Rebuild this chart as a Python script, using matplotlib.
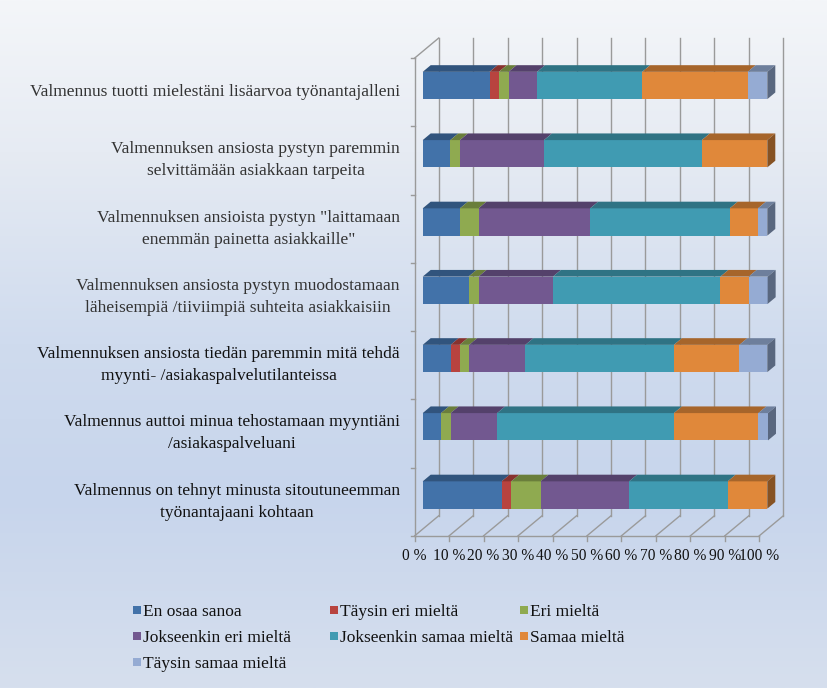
import numpy as np
import matplotlib
matplotlib.use("Agg")
import matplotlib.pyplot as plt
from matplotlib.patches import Polygon, Rectangle
from matplotlib.colors import to_rgb, LinearSegmentedColormap

categories = [
    "Valmennus tuotti mielestäni lisäarvoa työnantajalleni",
    "Valmennuksen ansiosta pystyn paremmin\nselvittämään asiakkaan tarpeita",
    "Valmennuksen ansioista pystyn \"laittamaan\nenemmän painetta asiakkaille\"",
    "Valmennuksen ansiosta pystyn muodostamaan\nläheisempiä /tiiviimpiä suhteita asiakkaisiin",
    "Valmennuksen ansiosta tiedän paremmin mitä tehdä\nmyynti- /asiakaspalvelutilanteissa",
    "Valmennus auttoi minua tehostamaan myyntiäni\n/asiakaspalveluani",
    "Valmennus on tehnyt minusta sitoutuneemman\ntyönantajaani kohtaan",
]

series_names = ["En osaa sanoa", "Täysin eri mieltä", "Eri mieltä",
                "Jokseenkin eri mieltä", "Jokseenkin samaa mieltä",
                "Samaa mieltä", "Täysin samaa mieltä"]

en_osaa = [19.4, 8.0, 10.8, 13.3, 8.1, 5.3, 22.9]
taysin_eri = [2.7, 0.0, 0.0, 0.0, 2.6, 0.0, 2.8]
eri = [2.8, 2.8, 5.4, 2.9, 2.8, 2.8, 8.5]
jokseenkin_eri = [8.3, 24.4, 32.4, 21.6, 16.3, 13.5, 25.7]
jokseenkin_samaa = [30.5, 45.8, 40.5, 48.6, 43.1, 51.3, 28.6]
samaa = [30.6, 19.0, 8.2, 8.2, 19.0, 24.5, 11.5]
taysin_samaa = [5.7, 0.0, 2.7, 5.5, 8.1, 2.8, 0.0]

tick_values = [0, 10, 20, 30, 40, 50, 60, 70, 80, 90, 100]

colors = ["#4272A9", "#B8433F", "#8FAA50", "#725890", "#409BB2", "#E0883A", "#95ABD3"]

series = [en_osaa, taysin_eri, eri, jokseenkin_eri, jokseenkin_samaa, samaa, taysin_samaa]

plt.rcParams["font.family"] = ["Liberation Serif", "DejaVu Serif"]

W, H, DPI = 828, 688, 100
fig = plt.figure(figsize=(W / DPI, H / DPI), dpi=DPI)

# background gradient
bg = fig.add_axes([0, 0, 1, 1], zorder=-10)
grad = LinearSegmentedColormap.from_list(
    "bg", [(0.0, "#f4f6f9"), (0.22, "#e6ebf3"), (0.5, "#cfdbee"),
           (0.72, "#c7d5ec"), (1.0, "#d6dfee")])
bg.imshow(np.linspace(0, 1, 256).reshape(-1, 1), aspect="auto", cmap=grad,
          extent=[0, 1, 0, 1])
bg.set_xlim(0, 1)
bg.set_ylim(0, 1)
bg.set_axis_off()

# pixel scale of the plot area
sx = 3.446          # px per percent
sy = 68.25          # px per category
x0_px, y0_px = 422.7, 85.5
left_px, right_px, top_px, bottom_px = 400, 795, 25, 545

ax = fig.add_axes([left_px / W, 1 - bottom_px / H,
                   (right_px - left_px) / W, (bottom_px - top_px) / H])
ax.set_xlim((left_px - x0_px) / sx, (right_px - x0_px) / sx)
ax.set_ylim((bottom_px - y0_px) / sy, (top_px - y0_px) / sy)
ax.set_axis_off()
ax.patch.set_alpha(0)

# oblique depth
ddx = 24 / sx
ddy = -20 / sy


def P(x, y, d):
    return (x + (d - 1 / 3) * ddx, y + (d - 1 / 3) * ddy)


def shade(c, f):
    r, g, b = to_rgb(c)
    return (r * f, g * f, b * f)


wall_col = "#9a9a9a"
ytop, ybot = -0.5, len(categories) - 0.5

# back wall gridlines and floor
for k in tick_values:
    a, b = P(k, ytop, 1), P(k, ybot, 1)
    ax.plot([a[0], b[0]], [a[1], b[1]], color=wall_col, lw=1, zorder=1)
    c = P(k, ybot, 0)
    ax.plot([b[0], c[0]], [b[1], c[1]], color=wall_col, lw=1, zorder=1)
    ax.plot([c[0], c[0]], [c[1], c[1] + 5 / sy], color=wall_col, lw=1, zorder=1)
    ax.text(c[0], c[1] + 20 / sy, f"{k} %", ha="center", va="center",
            fontsize=11.2, color="#111111")

a, b = P(0, ybot, 0), P(100, ybot, 0)
ax.plot([a[0], b[0]], [a[1], b[1]], color=wall_col, lw=1, zorder=1)
a, b = P(0, ytop, 0), P(0, ybot, 0)
ax.plot([a[0], b[0]], [a[1], b[1]], color=wall_col, lw=1, zorder=1)
c = P(0, ytop, 1)
ax.plot([a[0], c[0]], [a[1], c[1]], color=wall_col, lw=1, zorder=1)
for i in range(len(categories) + 1):
    t = P(0, i - 0.5, 0)
    ax.plot([t[0] - 4 / sx, t[0]], [t[1], t[1]], color=wall_col, lw=1, zorder=1)

# stacked 3D-looking bars
h = 0.4
y = np.arange(len(categories))
cum = np.zeros(len(categories))
for vals, col in zip(series, colors):
    vals = np.array(vals)
    ax.barh(y, vals, left=cum, height=h, color=col, lw=0, zorder=3)
    for i, (l, w) in enumerate(zip(cum, vals)):
        if w <= 0:
            continue
        yt = i - h / 2
        top = [P(l, yt, 1 / 3), P(l + w, yt, 1 / 3), P(l + w, yt, 2 / 3), P(l, yt, 2 / 3)]
        ax.add_patch(Polygon(top, closed=True, color=shade(col, 0.74), lw=0, zorder=3))
        if l + w >= 99.5:
            side = [P(l + w, yt, 1 / 3), P(l + w, yt + h, 1 / 3),
                    P(l + w, yt + h, 2 / 3), P(l + w, yt, 2 / 3)]
            ax.add_patch(Polygon(side, closed=True, color=shade(col, 0.6), lw=0, zorder=3))
    cum = cum + vals

# category labels
for i, lab in enumerate(categories):
    px = P(0, i, 0)
    ax.text((400 - x0_px) / sx, px[1], lab, ha="right", va="center",
            multialignment="center", fontsize=12.5, linespacing=1.5,
            color="#333333" if i < 4 else "#111111")

# legend, three per row
leg_x = [133, 330, 520]
leg_y = [612, 638, 664]
for n, (name, col) in enumerate(zip(series_names, colors)):
    mx, my = leg_x[n % 3], leg_y[n // 3]
    fig.patches.append(Rectangle((mx / W, 1 - (my + 2) / H), 8 / W, 8 / H,
                                 transform=fig.transFigure, color=col, lw=0))
    fig.text((mx + 10) / W, 1 - my / H, name, ha="left", va="center",
             fontsize=12.5, color="#111111")

fig.savefig("out.png", dpi=DPI)
